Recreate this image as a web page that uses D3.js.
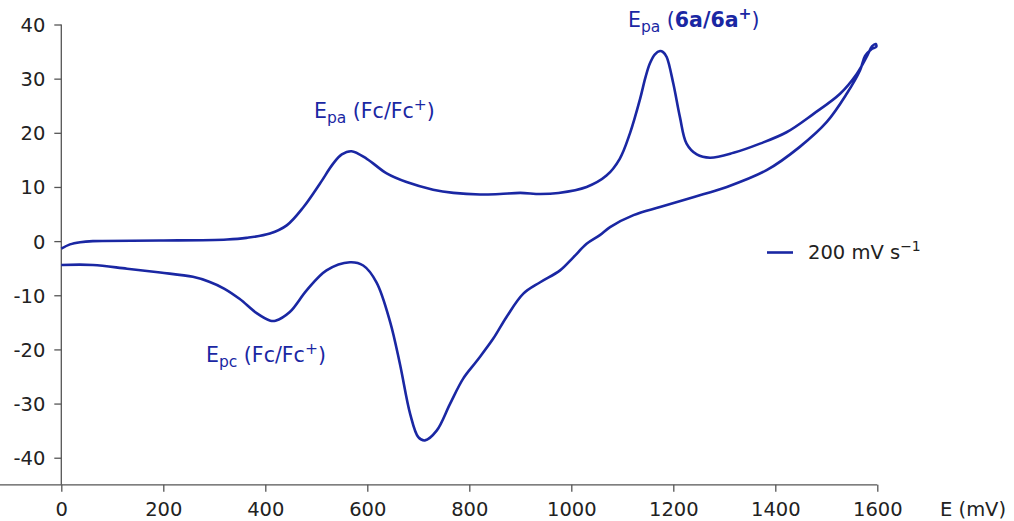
<!DOCTYPE html>
<html>
<head>
<meta charset="utf-8">
<script src="https://cdn.jsdelivr.net/npm/d3@7"></script>
<style>
  body { margin: 0; background: #fff; }
  svg { display: block; font-family: "DejaVu Sans", Verdana, sans-serif; }
</style>
</head>
<body>
<svg id="chart" width="1014" height="521"></svg>
<script>
// ---- data ----
const xTicks = [0, 200, 400, 600, 800, 1000, 1200, 1400, 1600];
const yTicks = [-40, -30, -20, -10, 0, 10, 20, 30, 40];

// forward (anodic) scan, E in mV, I in µA
const forwardE = [0, 17, 37, 62, 194, 325, 363, 409, 442, 475, 507, 533, 550, 569, 599, 638, 677, 729, 769, 821, 860, 900, 939, 975, 1030, 1069, 1095, 1115, 1135, 1145, 1154, 1164, 1174, 1180, 1187, 1200, 1213, 1226, 1246, 1272, 1318, 1370, 1422, 1475, 1527, 1560, 1579, 1590, 1597];
const forwardI = [-1.4, -0.6, -0.2, 0.0, 0.1, 0.3, 0.6, 1.4, 2.9, 6.3, 10.6, 14.3, 16.0, 16.6, 15.2, 12.5, 10.9, 9.5, 8.9, 8.6, 8.7, 8.9, 8.7, 8.9, 10.0, 12.1, 15.2, 19.9, 26.3, 30.1, 32.8, 34.5, 35.1, 34.9, 34.0, 29.1, 22.9, 18.0, 16.0, 15.4, 16.3, 18.0, 20.1, 23.5, 27.2, 30.9, 34.0, 36.0, 36.4];

// reverse (cathodic) scan
const reverseE = [1598, 1588, 1576, 1566, 1540, 1501, 1448, 1383, 1305, 1239, 1174, 1122, 1076, 1056, 1030, 1004, 978, 939, 906, 873, 847, 815, 788, 762, 736, 713, 700, 684, 664, 645, 618, 592, 566, 520, 481, 448, 420, 410, 383, 350, 320, 290, 258, 194, 129, 62, 0];
const reverseI = [35.9, 35.4, 34.2, 31.5, 27.2, 22.0, 17.4, 13.1, 10.0, 8.1, 6.3, 4.8, 2.6, 1.1, -0.5, -3.0, -5.4, -7.6, -9.7, -14.0, -18.0, -22.1, -25.4, -30.1, -35.0, -36.8, -36.2, -31.9, -22.7, -15.0, -7.6, -4.5, -3.9, -5.4, -9.1, -13.1, -14.7, -14.7, -13.3, -10.7, -8.8, -7.5, -6.6, -5.8, -5.1, -4.4, -4.4];

const seriesLabel = "200 mV s";
const xAxisLabel = "E (mV)";

// ---- drawing ----
const lineColor = "#1a27a3";
const svg = d3.select("#chart");

const x = d3.scaleLinear().domain([0, 1600]).range([61.3, 877.3]);
const y = d3.scaleLinear().domain([-45, 40]).range([484.8, 24.5]);

// axes
const fmt = d => String(d);
const xAxis = d3.axisBottom(x).tickValues(xTicks).tickFormat(fmt).tickSize(7).tickPadding(8).tickSizeOuter(0);
const yAxis = d3.axisLeft(y).tickValues(yTicks).tickFormat(fmt).tickSize(7).tickPadding(9).tickSizeOuter(0);

const gx = svg.append("g").attr("transform", `translate(0,${y(-45)})`).call(xAxis);
const gy = svg.append("g").attr("transform", `translate(${x(0)},0)`).call(yAxis);

[gx, gy].forEach(g => {
  g.select(".domain").attr("stroke", "#555").attr("stroke-width", 1.3);
  g.selectAll(".tick line").attr("stroke", "#555").attr("stroke-width", 1.3);
  g.selectAll(".tick text")
    .attr("fill", "#222")
    .style("font-family", "DejaVu Sans, Verdana, sans-serif")
    .style("font-size", "19.5px");
});
gy.select(".domain").attr("d", `M0,${y(40)}V${y(-45)}`);
gx.select(".domain").attr("d", `M0,0H${x(1600)}`);
gx.selectAll(".tick text").attr("dy", "0.85em");
gy.selectAll(".tick text").attr("dy", "0.36em");

// curve
const pts = forwardE.map((e, i) => [e, forwardI[i]])
  .concat(reverseE.map((e, i) => [e, reverseI[i]]));
const line = d3.line()
  .x(d => x(d[0]))
  .y(d => y(d[1]))
  .curve(d3.curveCatmullRom.alpha(0.5));

svg.append("path")
  .datum(pts)
  .attr("fill", "none")
  .attr("stroke", lineColor)
  .attr("stroke-width", 2.6)
  .attr("stroke-linejoin", "round")
  .attr("d", line);

// annotations
function annot(xp, yp, sub, parts) {
  const t = svg.append("text")
    .attr("x", xp).attr("y", yp)
    .attr("fill", lineColor)
    .style("font-size", "20.5px");
  t.append("tspan").text("E");
  t.append("tspan").attr("dy", 5).style("font-size", "15.5px").text(sub);
  t.append("tspan").attr("dy", -5).text(" (");
  parts.forEach(p => {
    const s = t.append("tspan").text(p.text);
    if (p.bold) s.style("font-weight", "bold");
    if (p.sup) s.attr("dy", -8).style("font-size", "15.5px");
    if (p.after) s.attr("dy", 8);
  });
  return t;
}
annot(314, 118, "pa", [{text: "Fc/Fc"}, {text: "+", sup: true}, {text: ")", after: true}]);
annot(206, 362, "pc", [{text: "Fc/Fc"}, {text: "+", sup: true}, {text: ")", after: true}]);
annot(628, 27, "pa", [{text: "6a/6a", bold: true}, {text: "+", sup: true, bold: true}, {text: ")", after: true}]);

// legend
svg.append("line")
  .attr("x1", 767).attr("x2", 793).attr("y1", 252.5).attr("y2", 252.5)
  .attr("stroke", lineColor).attr("stroke-width", 2.6);
const lt = svg.append("text")
  .attr("x", 808).attr("y", 259)
  .attr("fill", "#222")
  .style("font-size", "19.5px");
lt.append("tspan").text(seriesLabel);
lt.append("tspan").attr("dy", -8).style("font-size", "14px").text("\u22121");

// x-axis title
svg.append("text")
  .attr("x", 940).attr("y", 516)
  .attr("fill", "#222")
  .style("font-size", "19.5px")
  .text(xAxisLabel);
</script>
</body>
</html>
